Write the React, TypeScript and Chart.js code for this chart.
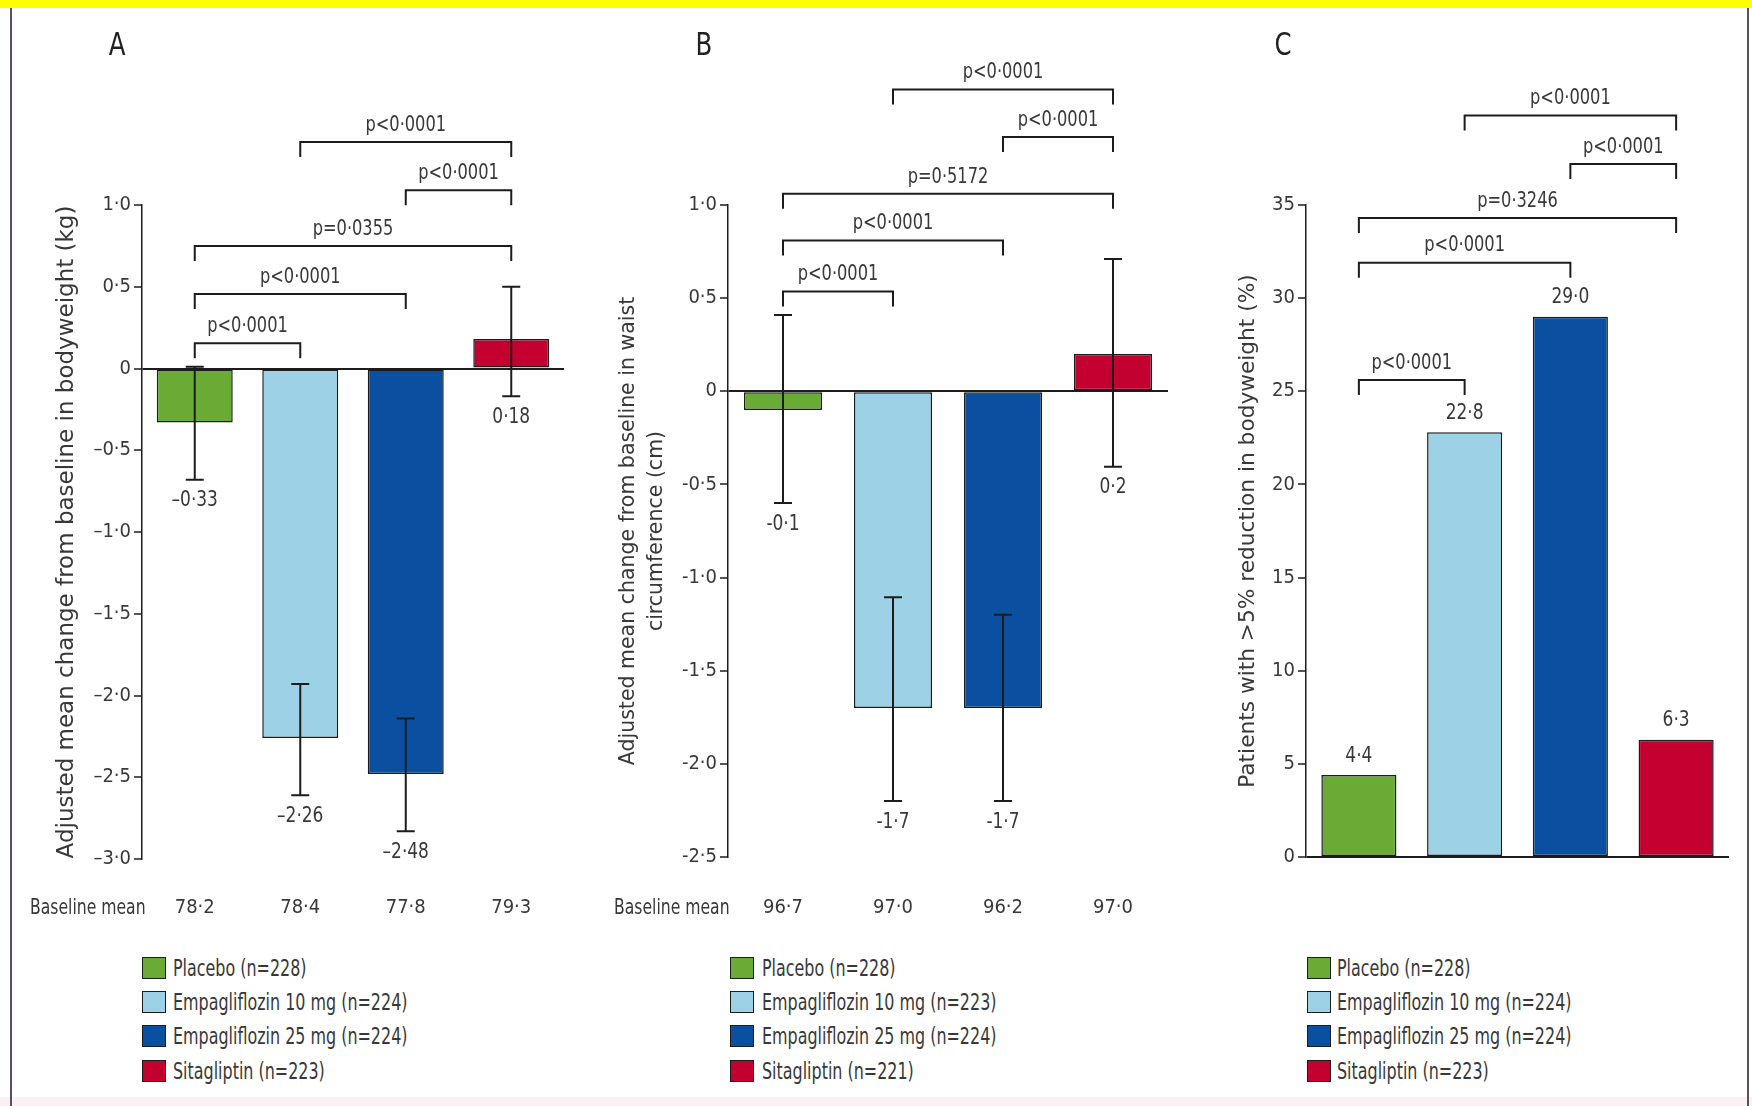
import React, { useEffect, useRef } from 'react';
import { Chart, registerables } from 'chart.js';

Chart.register(...registerables);

// ---------- data ----------
const categories = ['Placebo', 'Empagliflozin 10 mg', 'Empagliflozin 25 mg', 'Sitagliptin'];
const barColors = ['#6aab36', '#9dd1e6', '#0b4fa0', '#c3002f'];

// Panel A: bodyweight change (kg)
const weightChange = [-0.33, -2.26, -2.48, 0.18];
const weightErrLow = [-0.68, -2.61, -2.83, -0.17];
const weightErrHigh = [0.01, -1.93, -2.14, 0.5];
const weightValueLabels = ['–0·33', '–2·26', '–2·48', '0·18'];
const weightBaseline = ['78·2', '78·4', '77·8', '79·3'];
const weightLegend = ['Placebo (n=228)', 'Empagliflozin 10 mg (n=224)', 'Empagliflozin 25 mg (n=224)', 'Sitagliptin (n=223)'];
const weightPairs = [[0, 1], [0, 2], [0, 3], [2, 3], [1, 3]];
const weightPLevels = [0.155, 0.455, 0.75, 1.09, 1.385];
const weightPTexts = ['p<0·0001', 'p<0·0001', 'p=0·0355', 'p<0·0001', 'p<0·0001'];

// Panel B: waist circumference change (cm)
const waistChange = [-0.1, -1.7, -1.7, 0.2];
const waistErrLow = [-0.6, -2.2, -2.2, -0.405];
const waistErrHigh = [0.41, -1.105, -1.2, 0.71];
const waistValueLabels = ['-0·1', '-1·7', '-1·7', '0·2'];
const waistBaseline = ['96·7', '97·0', '96·2', '97·0'];
const waistLegend = ['Placebo (n=228)', 'Empagliflozin 10 mg (n=223)', 'Empagliflozin 25 mg (n=224)', 'Sitagliptin (n=221)'];
const waistPairs = [[0, 1], [0, 2], [0, 3], [2, 3], [1, 3]];
const waistPLevels = [0.535, 0.81, 1.06, 1.365, 1.62];
const waistPTexts = ['p<0·0001', 'p<0·0001', 'p=0·5172', 'p<0·0001', 'p<0·0001'];

// Panel C: patients with >5% reduction (%)
const responders = [4.4, 22.8, 29.0, 6.3];
const responderValueLabels = ['4·4', '22·8', '29·0', '6·3'];
const responderLegend = ['Placebo (n=228)', 'Empagliflozin 10 mg (n=224)', 'Empagliflozin 25 mg (n=224)', 'Sitagliptin (n=223)'];
const responderPairs = [[0, 1], [0, 2], [0, 3], [2, 3], [1, 3]];
const responderPLevels = [25.6, 31.9, 34.3, 37.2, 39.8];
const responderPTexts = ['p<0·0001', 'p<0·0001', 'p=0·3246', 'p<0·0001', 'p<0·0001'];

// ---------- style ----------
const NARROW = "'Liberation Sans Narrow', 'Arial Narrow', 'DejaVu Sans Condensed', 'Roboto Condensed', sans-serif";
const WIDE = "'DejaVu Sans', 'Open Sans', sans-serif";
const INK = '#1c1c1c';
const TEXT = '#383838';

function fillScaled(ctx: CanvasRenderingContext2D, text: string, x: number, y: number, sx: number) {
  ctx.save();
  ctx.translate(x, y);
  ctx.scale(sx, 1);
  ctx.fillText(text, 0, 0);
  ctx.restore();
}

type PanelProps = {
  letter: string;
  left: number; top: number; width: number; height: number;
  values: number[];
  errLow?: number[]; errHigh?: number[];
  valueLabels: string[];
  labelAbove: boolean;
  baseline?: string[];
  baselineTextX?: number;
  yMin: number; yMax: number; yStep: number; dash: string; decimals: number;
  title: string | string[]; titleSize: number; titleLineHeight: number; titlePad: number;
  pairs: number[][]; pLevels: number[]; pTexts: string[];
  yWidth: number; xHeight: number; padTop: number; padRight: number;
  letterX: number; letterY: number;
  xPad: number; barPct: number;
};

const TICK_SIZE = 20;

function Panel(p: PanelProps) {
  const ref = useRef<HTMLCanvasElement>(null);
  useEffect(() => {
    const canvas = ref.current as HTMLCanvasElement;
    const fmt = (v: number) => {
      if (Math.abs(v) < 1e-9) return '0';
      const s = Math.abs(v).toFixed(p.decimals).replace('.', '·');
      return v < 0 ? p.dash + s : s;
    };
    const tickFont = { family: NARROW, size: TICK_SIZE };
    const annot = {
      id: 'annot',
      afterDatasetsDraw(chart: any) {
        const ctx = chart.ctx as CanvasRenderingContext2D;
        const meta = chart.getDatasetMeta(0);
        const ys = chart.scales.y;
        ctx.save();
        ctx.strokeStyle = INK;
        ctx.lineWidth = 2;
        ctx.lineJoin = 'miter';
        if (p.errLow && p.errHigh) {
          meta.data.forEach((bar: any, i: number) => {
            const x = bar.x;
            const y1 = ys.getPixelForValue(p.errLow![i]);
            const y2 = ys.getPixelForValue(p.errHigh![i]);
            ctx.beginPath();
            ctx.moveTo(x, y1); ctx.lineTo(x, y2);
            ctx.moveTo(x - 9, y1); ctx.lineTo(x + 9, y1);
            ctx.moveTo(x - 9, y2); ctx.lineTo(x + 9, y2);
            ctx.stroke();
          });
        }
        ctx.fillStyle = TEXT;
        ctx.font = `22px ${NARROW}`;
        ctx.textAlign = 'center';
        ctx.textBaseline = 'middle';
        meta.data.forEach((bar: any, i: number) => {
          const y = p.labelAbove ? bar.y - 19 : ys.getPixelForValue(p.errLow![i]) + 21;
          fillScaled(ctx, p.valueLabels[i], bar.x, y, 0.86);
        });
        p.pairs.forEach(([a, b], k) => {
          const xa = meta.data[a].x;
          const xb = meta.data[b].x;
          const y = ys.getPixelForValue(p.pLevels[k]);
          ctx.beginPath();
          ctx.moveTo(xa, y + 15); ctx.lineTo(xa, y); ctx.lineTo(xb, y); ctx.lineTo(xb, y + 15);
          ctx.stroke();
          fillScaled(ctx, p.pTexts[k], (xa + xb) / 2, y - 17, 0.82);
        });
        ctx.restore();
      },
      afterDraw(chart: any) {
        const ctx = chart.ctx as CanvasRenderingContext2D;
        ctx.save();
        ctx.fillStyle = '#222';
        ctx.font = `32px ${NARROW}`;
        ctx.textAlign = 'center';
        ctx.textBaseline = 'middle';
        fillScaled(ctx, p.letter, p.letterX, p.letterY, 0.85);
        if (p.baseline) {
          ctx.fillStyle = TEXT;
          ctx.font = `22px ${NARROW}`;
          ctx.textAlign = 'left';
          fillScaled(ctx, 'Baseline mean', p.baselineTextX || 0, chart.chartArea.bottom + p.xPad + TICK_SIZE * 0.6, 0.79);
        }
        ctx.restore();
      },
    };
    const chart = new Chart(canvas, {
      type: 'bar',
      data: {
        labels: categories,
        datasets: [{
          data: p.values,
          backgroundColor: barColors,
          borderColor: INK,
          borderWidth: 1.5,
          borderSkipped: false,
          barPercentage: p.barPct,
          categoryPercentage: 1,
        }],
      },
      options: {
        animation: false,
        responsive: false,
        maintainAspectRatio: false,
        devicePixelRatio: 1,
        layout: { padding: { top: p.padTop, right: p.padRight, left: 0, bottom: 0 } },
        plugins: { legend: { display: false }, tooltip: { enabled: false } },
        scales: {
          x: {
            grid: { display: false, drawTicks: false },
            border: { display: false },
            ticks: {
              display: !!p.baseline,
              padding: p.xPad,
              font: tickFont,
              color: TEXT,
              maxRotation: 0,
              callback: (_v: any, i: number) => (p.baseline ? p.baseline[i] : ''),
            },
            afterFit: (s: any) => { s.height = p.xHeight; },
          },
          y: {
            min: p.yMin,
            max: p.yMax,
            ticks: {
              stepSize: p.yStep,
              font: tickFont,
              color: TEXT,
              padding: 3,
              callback: (v: any) => fmt(Number(v)),
            },
            grid: {
              color: (c: any) => (c.tick && Math.abs(c.tick.value) < 1e-9 ? INK : 'rgba(0,0,0,0)'),
              lineWidth: 2,
              tickColor: INK,
              tickWidth: 1.5,
              tickLength: 8,
              drawOnChartArea: true,
            },
            border: { display: true, color: INK, width: 1.5 },
            title: {
              display: true,
              text: p.title,
              color: TEXT,
              font: { family: WIDE, size: p.titleSize, lineHeight: p.titleLineHeight },
              padding: { top: p.titlePad, bottom: 0 },
            },
            afterFit: (s: any) => { s.width = p.yWidth; },
          },
        },
      },
      plugins: [annot],
    } as any);
    return () => chart.destroy();
  }, []);
  return (
    <canvas
      ref={ref}
      width={p.width}
      height={p.height}
      style={{ position: 'absolute', left: p.left, top: p.top, width: p.width, height: p.height }}
    />
  );
}

function Legend({ left, textLeft, items }: { left: number; textLeft: number; items: string[] }) {
  const rows = [968, 1002, 1036, 1071];
  return (
    <>
      {items.map((t, i) => (
        <React.Fragment key={i}>
          <div
            style={{
              position: 'absolute', left, top: rows[i] - 11, width: 22, height: 20,
              background: barColors[i], border: `1.5px solid ${INK}`,
            }}
          />
          <div
            style={{
              position: 'absolute', left: textLeft, top: rows[i] - 14, height: 28, lineHeight: '28px',
              fontFamily: NARROW, fontSize: 23, color: TEXT, whiteSpace: 'nowrap',
              transform: 'scaleX(0.77)', transformOrigin: 'left center',
            }}
          >
            {t}
          </div>
        </React.Fragment>
      ))}
    </>
  );
}

export default function App() {
  return (
    <div style={{ position: 'absolute', left: 0, top: 0, width: 1752, height: 1106, background: '#fff', overflow: 'hidden' }}>
      <div style={{ position: 'absolute', left: 0, top: 0, width: 1752, height: 8, background: '#ffff00' }} />
      <div style={{ position: 'absolute', left: 0, top: 1097, width: 1752, height: 9, background: '#fcf0f7' }} />
      <div style={{ position: 'absolute', left: 10, top: 8, width: 2, height: 1098, background: '#5e4e5e' }} />
      <div style={{ position: 'absolute', left: 1747, top: 8, width: 2, height: 1098, background: '#5e4e5e' }} />
      <Panel
        letter="A" left={11} top={8} width={574} height={932}
        values={weightChange} errLow={weightErrLow} errHigh={weightErrHigh}
        valueLabels={weightValueLabels} labelAbove={false}
        baseline={weightBaseline} baselineTextX={19}
        yMin={-3} yMax={1} yStep={0.5} dash="–" decimals={1}
        title="Adjusted mean change from baseline in bodyweight (kg)" titleSize={23} titleLineHeight={1.2} titlePad={42}
        pairs={weightPairs} pLevels={weightPLevels} pTexts={weightPTexts}
        yWidth={131} xHeight={81} padTop={197} padRight={21}
        letterX={106} letterY={39} xPad={37} barPct={0.72}
      />
      <Panel
        letter="B" left={590} top={8} width={590} height={932}
        values={waistChange} errLow={waistErrLow} errHigh={waistErrHigh}
        valueLabels={waistValueLabels} labelAbove={false}
        baseline={waistBaseline} baselineTextX={24}
        yMin={-2.5} yMax={1} yStep={0.5} dash="-" decimals={1}
        title={['Adjusted mean change from baseline in waist', 'circumference (cm)']} titleSize={20.5} titleLineHeight={1.366} titlePad={25}
        pairs={waistPairs} pLevels={waistPLevels} pTexts={waistPTexts}
        yWidth={138} xHeight={83} padTop={197} padRight={12}
        letterX={114} letterY={39} xPad={39} barPct={0.71}
      />
      <Panel
        letter="C" left={1185} top={8} width={560} height={932}
        values={responders}
        valueLabels={responderValueLabels} labelAbove={true}
        yMin={0} yMax={35} yStep={5} dash="-" decimals={0}
        title="Patients with >5% reduction in bodyweight (%)" titleSize={21.7} titleLineHeight={1.2} titlePad={50}
        pairs={responderPairs} pLevels={responderPLevels} pTexts={responderPTexts}
        yWidth={121} xHeight={83} padTop={197} padRight={16}
        letterX={98} letterY={39} xPad={39} barPct={0.71}
      />
      <Legend left={142} textLeft={173} items={weightLegend} />
      <Legend left={730} textLeft={762} items={waistLegend} />
      <Legend left={1307} textLeft={1337} items={responderLegend} />
    </div>
  );
}
